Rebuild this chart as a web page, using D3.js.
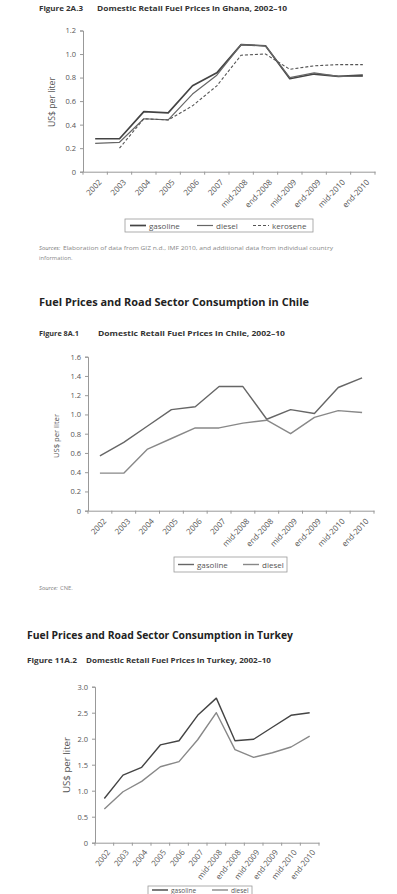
<!DOCTYPE html>
<html><head><meta charset="utf-8">
<script src="https://cdn.jsdelivr.net/npm/d3@7/dist/d3.min.js"></script>
<style>body{margin:0;background:#fff}svg{display:block}text{font-family:"Open Sans",sans-serif}</style>
</head><body>
<script>
const categories=["2002","2003","2004","2005","2006","2007","mid-2008","end-2008","mid-2009","end-2009","mid-2010","end-2010"];
const ghanaGasoline=[0.28,0.28,0.51,0.50,0.73,0.84,1.08,1.07,0.79,0.83,0.81,0.82];
const ghanaDiesel=[0.24,0.25,0.45,0.44,0.66,0.82,1.08,1.07,0.80,0.84,0.81,0.81];
const ghanaKerosene=[null,0.20,0.45,0.44,0.56,0.73,0.99,1.00,0.87,0.90,0.91,0.91];
const ghanaTicks=[0,0.2,0.4,0.6,0.8,1.0,1.2];
const chileGasoline=[0.57,0.71,0.88,1.05,1.08,1.29,1.29,0.95,1.05,1.01,1.28,1.38];
const chileDiesel=[0.39,0.39,0.64,0.75,0.86,0.86,0.91,0.94,0.80,0.97,1.04,1.02];
const chileTicks=[0,0.2,0.4,0.6,0.8,1.0,1.2,1.4,1.6];
const turkeyGasoline=[0.85,1.30,1.45,1.88,1.96,2.45,2.78,1.96,1.99,2.22,2.45,2.50];
const turkeyDiesel=[0.65,0.98,1.18,1.46,1.56,1.98,2.50,1.79,1.64,1.73,1.84,2.05];
const turkeyTicks=[0,0.5,1.0,1.5,2.0,2.5,3.0];

const svg=d3.select("body").append("svg").attr("width",397).attr("height",894);

function txt(x,y,s,o){
  const t=svg.append("text").attr("x",x).attr("y",y).text(s)
    .attr("font-size",o.size).attr("font-weight",o.weight||"normal").attr("fill",o.fill||"#333");
  if(o.len){t.attr("textLength",o.len).attr("lengthAdjust","spacingAndGlyphs");}
  if(o.style)t.attr("font-style",o.style);
  return t;
}

function chart(cfg){
  const x=d3.scaleBand().domain(categories).range([cfg.x0,cfg.x1]);
  const y=d3.scaleLinear().domain([0,cfg.ymax]).range([cfg.y0,cfg.ytop]);
  const g=svg.append("g");
  const ya=g.append("g").attr("transform",`translate(${cfg.x0},0)`)
    .call(d3.axisLeft(y).tickValues(cfg.ticks).tickSize(3).tickPadding(4)
      .tickFormat(d=>d===0?"0":d3.format(".1f")(d)));
  ya.select(".domain").attr("stroke","#999");
  ya.selectAll(".tick line").attr("stroke","#999");
  ya.selectAll("text").attr("fill","#555").attr("font-size",cfg.ytSize).attr("font-family",'"Open Sans",sans-serif');
  const xa=g.append("g").attr("transform",`translate(0,${cfg.y0})`)
    .call(d3.axisBottom(x).tickSize(0).tickPadding(0));
  xa.select(".domain").attr("stroke","#999");
  xa.selectAll("text").attr("fill","#555").attr("font-size",cfg.xtSize).attr("font-family",'"Open Sans",sans-serif')
    .attr("text-anchor","end").attr("x",0).attr("y",0).attr("dy","0.35em")
    .attr("transform",`translate(${cfg.ltx},${cfg.lty}) rotate(${cfg.rot})`);
  g.selectAll(".bt").data(categories.concat(["_end"])).enter().append("line")
    .attr("x1",d=>d==="_end"?cfg.x1:x(d)).attr("x2",d=>d==="_end"?cfg.x1:x(d))
    .attr("y1",cfg.y0).attr("y2",cfg.y0+3).attr("stroke","#999");
  svg.append("text").attr("transform",`translate(${cfg.ylx},${cfg.yly}) rotate(-90)`)
    .attr("text-anchor","middle").attr("font-size",cfg.ylSize).attr("fill","#555")
    .attr("textLength",cfg.ylLen).attr("lengthAdjust","spacingAndGlyphs").text("US$ per liter");
  const line=d3.line().defined(d=>d.v!=null).x(d=>x(d.c)+x.bandwidth()/2).y(d=>y(d.v));
  cfg.series.forEach(s=>{
    const data=categories.map((c,i)=>({c,v:s.values[i]}));
    g.append("path").attr("d",line(data)).attr("fill","none").attr("stroke",s.color)
      .attr("stroke-width",s.width).attr("stroke-dasharray",s.dash||null).attr("stroke-linejoin","round");
  });
  const L=cfg.legend;
  svg.append("rect").attr("x",L.x).attr("y",L.y).attr("width",L.w).attr("height",L.h)
    .attr("fill","none").attr("stroke","#999").attr("stroke-width",0.8);
  cfg.series.forEach((s,i)=>{
    const lx=L.items[i];
    svg.append("line").attr("x1",lx).attr("x2",lx+16).attr("y1",L.ly).attr("y2",L.ly)
      .attr("stroke",s.color).attr("stroke-width",s.width).attr("stroke-dasharray",s.dash||null);
    svg.append("text").attr("x",lx+19).attr("y",L.ty).attr("font-size",L.size).attr("fill","#555").text(s.name);
  });
}

// Ghana
txt(39,10.5,"Figure 2A.3",{size:7,weight:"bold",len:44,fill:"#333"});
txt(97,10.5,"Domestic Retail Fuel Prices in Ghana, 2002–10",{size:7,weight:"bold",len:190,fill:"#333"});
chart({x0:83,x1:375,y0:171.7,ytop:30.5,ymax:1.2,ticks:ghanaTicks,ytSize:7.5,xtSize:8,rot:-47,ltx:5,lty:9,
  ylx:55,yly:102,ylSize:8.5,ylLen:50,
  series:[{name:"gasoline",values:ghanaGasoline,color:"#444",width:1.7},
          {name:"diesel",values:ghanaDiesel,color:"#666",width:1.2},
          {name:"kerosene",values:ghanaKerosene,color:"#555",width:1.1,dash:"3,2"}],
  legend:{x:125,y:219,w:188,h:13,ly:225.5,ty:228.5,size:8,items:[130,197,253]}});
txt(39,249.5,"Sources:",{size:5.8,style:"italic",fill:"#777"});
txt(63,249.5,"Elaboration of data from GIZ n.d., IMF 2010, and additional data from individual country",{size:5.8,fill:"#888",len:270});
txt(39,259.5,"information.",{size:5.8,fill:"#888"});

// Chile
txt(39,305.5,"Fuel Prices and Road Sector Consumption in Chile",{size:11,weight:"bold",len:270,fill:"#222"});
txt(39,336,"Figure 8A.1",{size:7,weight:"bold",len:40,fill:"#333"});
txt(98,336,"Domestic Retail Fuel Prices in Chile, 2002–10",{size:7,weight:"bold",len:187,fill:"#333"});
chart({x0:88,x1:374,y0:510.7,ytop:356.7,ymax:1.6,ticks:chileTicks,ytSize:7.5,xtSize:8,rot:-47,ltx:5,lty:9,
  ylx:59,yly:436,ylSize:8,ylLen:44,
  series:[{name:"gasoline",values:chileGasoline,color:"#666",width:1.4},
          {name:"diesel",values:chileDiesel,color:"#888",width:1.4}],
  legend:{x:174,y:557,w:113,h:15,ly:564.5,ty:567.5,size:8,items:[178,243]}});
txt(39,590,"Source:",{size:5.8,style:"italic",fill:"#777"});
txt(60,590,"CNE.",{size:5.8,fill:"#888"});

// Turkey
txt(27,639,"Fuel Prices and Road Sector Consumption in Turkey",{size:11,weight:"bold",len:266,fill:"#222"});
txt(27,663,"Figure 11A.2",{size:7,weight:"bold",len:50,fill:"#333"});
txt(86,663,"Domestic Retail Fuel Prices in Turkey, 2002–10",{size:7,weight:"bold",len:185,fill:"#333"});
chart({x0:95,x1:319,y0:842.7,ytop:686.7,ymax:3.0,ticks:turkeyTicks,ytSize:7.5,xtSize:8,rot:-52,ltx:4,lty:8,
  ylx:70,yly:765,ylSize:8.5,ylLen:56,
  series:[{name:"gasoline",values:turkeyGasoline,color:"#444",width:1.4},
          {name:"diesel",values:turkeyDiesel,color:"#888",width:1.4}],
  legend:{x:148,y:886,w:104,h:12,ly:890,ty:893,size:6.5,items:[152,212]}});
</script>
</body></html>
